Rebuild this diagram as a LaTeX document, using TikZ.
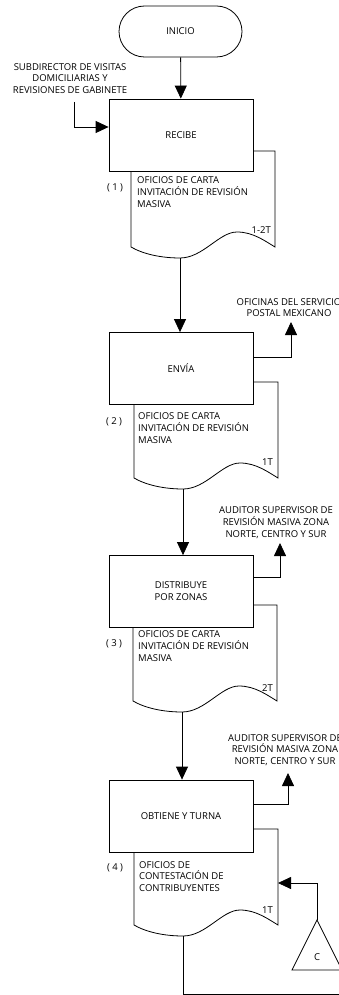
\documentclass[tikz,border=0pt]{standalone}
\usepackage{fontspec}
\setmainfont{Open Sans}
\usetikzlibrary{arrows.meta}
\tikzset{
  line/.style={draw=black,line width=0.8pt},
  arr/.style={line,-{Triangle[length=13pt,width=12pt]}},
  txt/.style={font=\fontsize{9.5}{11.8}\selectfont,inner sep=0pt},
  procbox/.style={line,fill=white,txt,minimum width=144pt,minimum height=72pt,align=center},
  term/.style={line,fill=white,txt,rounded corners=25.5pt,minimum width=123pt,minimum height=51pt},
  % document symbol: wavy lower edge, hidden corner under its process box
  docpage/.pic={
    \path[line,fill=white] (0,0) -- (144,0) -- (144,96)
      .. controls (134,90) and (122,81) .. (106,81)
      .. controls (88,81) and (72,107) .. (49,107)
      .. controls (30,107) and (12,103) .. (0,96) -- cycle;
    \coordinate (-bot) at (49,107);
    \coordinate (-in) at (144,54);
  }
}
\begin{document}
\begin{tikzpicture}[x=1pt,y=-1pt]
\useasboundingbox (0,0) rectangle (339,995);

% documents (drawn first, boxes overlap them)
\pic (d1) at (131,151) {docpage};
\pic (d2) at (134,382) {docpage};
\pic (d3) at (133,605) {docpage};
\pic (d4) at (134,829) {docpage};

% start and process boxes
\node[term] (ini) at (180.5,31.5) {INICIO};
\node[procbox] (b1) at (181,135) {RECIBE};
\node[procbox] (b2) at (181,368.5) {ENVÍA};
\node[procbox] (b3) at (181,591.5) {DISTRIBUYE\\POR ZONAS};
\node[procbox] (b4) at (181,816) {OBTIENE Y TURNA};

% document texts
\node[txt,align=left,anchor=north west] (t1) at (137,176.6) {OFICIOS DE CARTA\\INVITACIÓN DE REVISIÓN\\MASIVA};
\node[txt,align=left,anchor=north west] (t2) at (138,412.6) {OFICIOS DE CARTA\\INVITACIÓN DE REVISIÓN\\MASIVA};
\node[txt,align=left,anchor=north west] (t3) at (138,630.6) {OFICIOS DE CARTA\\INVITACIÓN DE REVISIÓN\\MASIVA};
\node[txt,align=left,anchor=north west] (t4) at (139,861) {OFICIOS DE\\CONTESTACIÓN DE\\CONTRIBUYENTES};

% step numbers
\node[txt] (n1) at (115,187.5) {( 1 )};
\node[txt] (n2) at (114,422) {( 2 )};
\node[txt] (n3) at (114,644) {( 3 )};
\node[txt] (n4) at (115,868) {( 4 )};

% copy tags
\node[txt,anchor=east] (p1) at (271,230) {1-2T};
\node[txt,anchor=east] (p2) at (273,462) {1T};
\node[txt,anchor=east] (p3) at (273,688) {2T};
\node[txt,anchor=east] (p4) at (273,910) {1T};

% main flow
\draw[arr] (ini) -- (b1);
\draw[arr] (d1-bot) -- (d1-bot |- b2.north);
\draw[arr] (d2-bot) -- (d2-bot |- b3.north);
\draw[arr] (d3-bot) -- (d3-bot |- b4.north);

% incoming sender
\node[txt,align=center,anchor=north] (src) at (70,63) {SUBDIRECTOR DE VISITAS\\DOMICILIARIAS Y\\REVISIONES DE GABINETE};
\coordinate (srcend) at (74,102);
\draw[arr] (srcend) |- ([yshift=8pt]b1.west);

% outgoing recipients
\node[txt,align=center,anchor=north] (dst2) at (289,298) {OFICINAS DEL SERVICIO\\POSTAL MEXICANO};
\coordinate (tip2) at (291,322);
\draw[arr] ([yshift=11.5pt]b2.east) -| (tip2);

\node[txt,align=center,anchor=north] (dst3) at (276,506.6) {AUDITOR SUPERVISOR DE\\REVISIÓN MASIVA ZONA\\NORTE, CENTRO Y SUR};
\coordinate (tip3) at (280,543);
\draw[arr] ([yshift=14.5pt]b3.east) -| (tip3);

\node[txt,align=center,anchor=north] (dst4) at (285,734) {AUDITOR SUPERVISOR DE\\REVISIÓN MASIVA ZONA\\NORTE, CENTRO Y SUR};
\coordinate (tip4) at (288,773);
\draw[arr] ([yshift=12pt]b4.east) -| (tip4);

% off-page connector C
\draw[line,fill=white] (292,970) -- (317,920) -- (342,970) -- cycle;
\coordinate (capex) at (317,920);
\node[txt] (cl) at (317,957) {C};
\draw[arr] (capex) |- (d4-in);

% exit line
\coordinate (exitpt) at (350,994);
\draw[line] (d4-bot) |- (exitpt);
\end{tikzpicture}
\end{document}
